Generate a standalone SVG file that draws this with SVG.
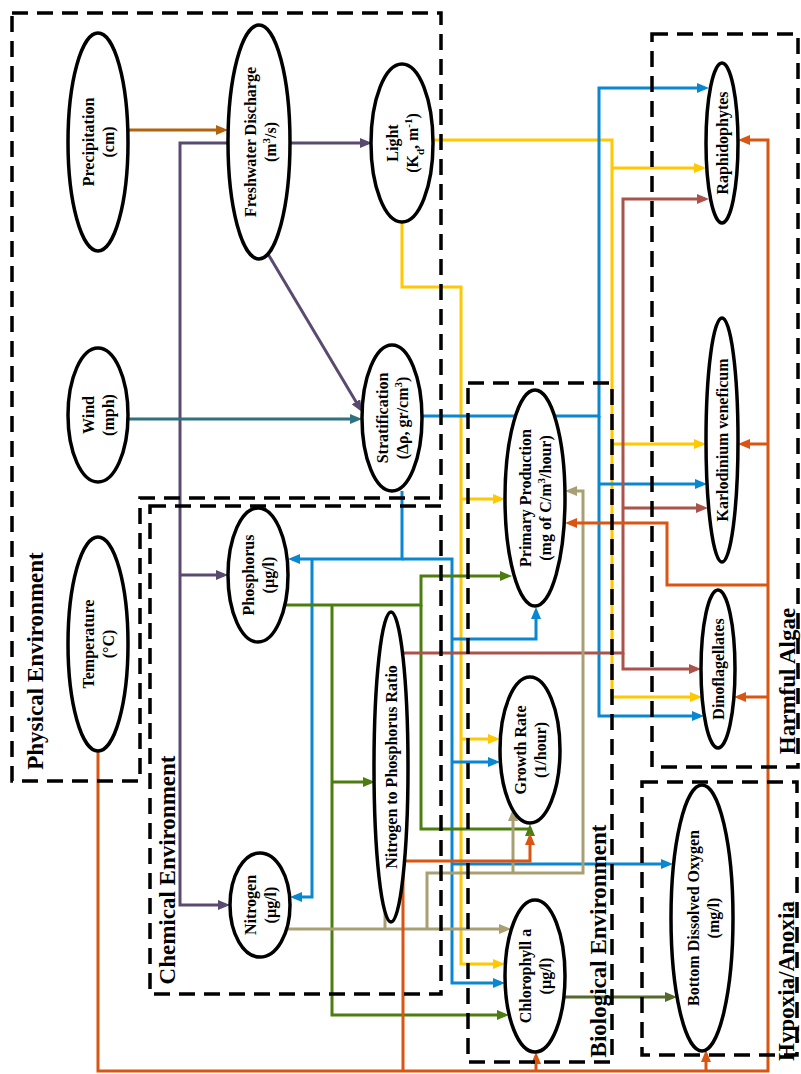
<svg xmlns="http://www.w3.org/2000/svg" width="801" height="1074" viewBox="0 0 801 1074">
<style>
.c{fill:none;stroke-width:3;stroke-linejoin:miter}
.box{fill:none;stroke:#000;stroke-width:3.5;stroke-dasharray:16 9}
.n ellipse{fill:#fff;stroke:#000;stroke-width:3.5}
text{font-family:"Liberation Serif","Times New Roman",serif;font-weight:bold;fill:#000}
.n text{font-size:16px;text-anchor:middle}
.g{font-size:23px;text-anchor:middle}
.sup{font-size:11px;baseline-shift:super}
.sub{font-size:11px;baseline-shift:sub}
</style>
<defs>
<marker id="mBrown" viewBox="0 0 12 10" refX="8" refY="5" markerWidth="12" markerHeight="10" markerUnits="userSpaceOnUse" orient="auto"><path d="M0,0 L12,5 L0,10 z" fill="#B5620F"/></marker>
<marker id="mPurple" viewBox="0 0 12 10" refX="8" refY="5" markerWidth="12" markerHeight="10" markerUnits="userSpaceOnUse" orient="auto"><path d="M0,0 L12,5 L0,10 z" fill="#5A4A70"/></marker>
<marker id="mTeal" viewBox="0 0 12 10" refX="8" refY="5" markerWidth="12" markerHeight="10" markerUnits="userSpaceOnUse" orient="auto"><path d="M0,0 L12,5 L0,10 z" fill="#2F717F"/></marker>
<marker id="mYellow" viewBox="0 0 12 10" refX="8" refY="5" markerWidth="12" markerHeight="10" markerUnits="userSpaceOnUse" orient="auto"><path d="M0,0 L12,5 L0,10 z" fill="#FFC800"/></marker>
<marker id="mBlue" viewBox="0 0 12 10" refX="8" refY="5" markerWidth="12" markerHeight="10" markerUnits="userSpaceOnUse" orient="auto"><path d="M0,0 L12,5 L0,10 z" fill="#0A87D1"/></marker>
<marker id="mGreen" viewBox="0 0 12 10" refX="8" refY="5" markerWidth="12" markerHeight="10" markerUnits="userSpaceOnUse" orient="auto"><path d="M0,0 L12,5 L0,10 z" fill="#4B7E0E"/></marker>
<marker id="mRed" viewBox="0 0 12 10" refX="8" refY="5" markerWidth="12" markerHeight="10" markerUnits="userSpaceOnUse" orient="auto"><path d="M0,0 L12,5 L0,10 z" fill="#A9534A"/></marker>
<marker id="mTan" viewBox="0 0 12 10" refX="8" refY="5" markerWidth="12" markerHeight="10" markerUnits="userSpaceOnUse" orient="auto"><path d="M0,0 L12,5 L0,10 z" fill="#A89F72"/></marker>
<marker id="mOrange" viewBox="0 0 12 10" refX="8" refY="5" markerWidth="12" markerHeight="10" markerUnits="userSpaceOnUse" orient="auto"><path d="M0,0 L12,5 L0,10 z" fill="#DA5512"/></marker>
<marker id="mOlive" viewBox="0 0 12 10" refX="8" refY="5" markerWidth="12" markerHeight="10" markerUnits="userSpaceOnUse" orient="auto"><path d="M0,0 L12,5 L0,10 z" fill="#55692F"/></marker>
</defs>
<rect x="0" y="0" width="801" height="1074" fill="#fff"/>

<g id="connectors">
<path class="c" stroke="#B5620F" marker-end="url(#mBrown)" d="M128,130 H224"/>
<path class="c" stroke="#5A4A70" marker-end="url(#mPurple)" d="M290,143 H368"/>
<path class="c" stroke="#5A4A70" marker-end="url(#mPurple)" d="M229,143 H180 V905 H226"/>
<path class="c" stroke="#5A4A70" marker-end="url(#mPurple)" d="M180,575 H224"/>
<path class="c" stroke="#5A4A70" marker-end="url(#mPurple)" d="M268,254 L360,408.6"/>
<path class="c" stroke="#2F717F" marker-end="url(#mTeal)" d="M128,419 H358"/>

<path class="c" stroke="#FFC800" marker-end="url(#mYellow)" d="M433,140 H612 V697 H698"/>
<path class="c" stroke="#FFC800" marker-end="url(#mYellow)" d="M612,168 H702"/>
<path class="c" stroke="#FFC800" marker-end="url(#mYellow)" d="M612,444 H702"/>
<path class="c" stroke="#FFC800" marker-end="url(#mYellow)" d="M402,222 V287 H461 V964 H501"/>
<path class="c" stroke="#FFC800" marker-end="url(#mYellow)" d="M461,499 H501"/>
<path class="c" stroke="#FFC800" marker-end="url(#mYellow)" d="M461,739 H496"/>

<path class="c" stroke="#0A87D1" marker-end="url(#mBlue)" d="M422,416 H599 V88 H705"/>
<path class="c" stroke="#0A87D1" marker-end="url(#mBlue)" d="M599,416 V716 H700"/>
<path class="c" stroke="#0A87D1" marker-end="url(#mBlue)" d="M599,484 H703"/>
<path class="c" stroke="#0A87D1" marker-end="url(#mBlue)" d="M402,491 V559 H292"/>
<path class="c" stroke="#0A87D1" marker-end="url(#mBlue)" d="M402,559 H452 V983 H501"/>
<path class="c" stroke="#0A87D1" marker-end="url(#mBlue)" d="M312,559 V897 H294"/>
<path class="c" stroke="#0A87D1" marker-end="url(#mBlue)" d="M452,639 H536 V611"/>
<path class="c" stroke="#0A87D1" marker-end="url(#mBlue)" d="M452,762 H496"/>
<path class="c" stroke="#0A87D1" marker-end="url(#mBlue)" d="M452,864 H669"/>

<path class="c" stroke="#4B7E0E" marker-end="url(#mGreen)" d="M285,605 H421 V576 H508"/>
<path class="c" stroke="#4B7E0E" marker-end="url(#mGreen)" d="M421,605 V829 H530 V828"/>
<path class="c" stroke="#4B7E0E" marker-end="url(#mGreen)" d="M332,605 V1015 H505"/>
<path class="c" stroke="#4B7E0E" marker-end="url(#mGreen)" d="M332,782 H371"/>

<path class="c" stroke="#A9534A" marker-end="url(#mRed)" d="M402,653 H623 V199 H705"/>
<path class="c" stroke="#A9534A" marker-end="url(#mRed)" d="M623,653 V669 H697"/>
<path class="c" stroke="#A9534A" marker-end="url(#mRed)" d="M623,508 H704"/>

<path class="c" stroke="#A89F72" marker-end="url(#mTan)" d="M287,929 H507"/>
<path class="c" stroke="#A89F72" d="M385,913 V929"/>
<path class="c" stroke="#A89F72" marker-end="url(#mTan)" d="M427,929 V873 H583 V491 H569"/>
<path class="c" stroke="#A89F72" marker-end="url(#mTan)" d="M513,873 V813"/>

<path class="c" stroke="#DA5512" marker-end="url(#mOrange)" d="M98,752 V1071 H768 V140 H742"/>
<path class="c" stroke="#DA5512" marker-end="url(#mOrange)" d="M403,1071 V861 H530 V837"/>
<path class="c" stroke="#DA5512" marker-end="url(#mOrange)" d="M536,1071 V1056"/>
<path class="c" stroke="#DA5512" marker-end="url(#mOrange)" d="M706,1071 V1054"/>
<path class="c" stroke="#DA5512" marker-end="url(#mOrange)" d="M768,444 H742"/>
<path class="c" stroke="#DA5512" marker-end="url(#mOrange)" d="M768,585 H667 V523 H569"/>
<path class="c" stroke="#DA5512" marker-end="url(#mOrange)" d="M768,697 H738"/>

<path class="c" stroke="#55692F" marker-end="url(#mOlive)" d="M564,997 H673"/>
</g>

<g id="groups">
<path class="box" d="M12,13 H441 V498 H140 V781 H12 Z"/>
<rect class="box" x="150" y="506" width="291" height="488"/>
<rect class="box" x="468" y="383" width="144" height="679"/>
<rect class="box" x="652" y="34" width="146" height="733"/>
<rect class="box" x="642" y="782" width="155" height="273"/>
<text class="g" transform="translate(35,661) rotate(-90)" dy="8">Physical Environment</text>
<text class="g" transform="translate(167,870) rotate(-90)" dy="8">Chemical Environment</text>
<text class="g" transform="translate(598,941) rotate(-90)" dy="8">Biological Environment</text>
<text class="g" transform="translate(787,681) rotate(-90)" dy="8">Harmful Algae</text>
<text class="g" transform="translate(786,981) rotate(-90)" dy="8">Hypoxia/Anoxia</text>
</g>

<g id="precipitation" class="n"><ellipse cx="98" cy="142" rx="30" ry="109"/>
<text transform="translate(98,142) rotate(-90)"><tspan x="0" y="-4">Precipitation</tspan><tspan x="0" y="16">(cm)</tspan></text></g>
<g id="freshwater" class="n"><ellipse cx="259" cy="142" rx="31" ry="117"/>
<text transform="translate(259,142) rotate(-90)"><tspan x="0" y="-3">Freshwater Discharge</tspan><tspan x="0" y="17">(m<tspan class="sup">3</tspan>/s)</tspan></text></g>
<g id="light" class="n"><ellipse cx="402" cy="143" rx="31" ry="79"/>
<text transform="translate(402,143) rotate(-90)"><tspan x="0" y="-4">Light</tspan><tspan x="0" y="16">(K<tspan class="sub">d</tspan>, m<tspan class="sup">-1</tspan>)</tspan></text></g>
<g id="wind" class="n"><ellipse cx="98" cy="415" rx="30" ry="67"/>
<text transform="translate(98,415) rotate(-90)"><tspan x="0" y="-4">Wind</tspan><tspan x="0" y="16">(mph)</tspan></text></g>
<g id="stratification" class="n"><ellipse cx="392" cy="418" rx="30" ry="73"/>
<text transform="translate(392,418) rotate(-90)"><tspan x="0" y="-4">Stratification</tspan><tspan x="0" y="16">(Δρ, gr/cm<tspan class="sup">3</tspan>)</tspan></text></g>
<g id="temperature" class="n"><ellipse cx="98" cy="644" rx="30" ry="107"/>
<text transform="translate(98,644) rotate(-90)"><tspan x="0" y="-4">Temperature</tspan><tspan x="0" y="16">(°C)</tspan></text></g>
<g id="phosphorus" class="n"><ellipse cx="258" cy="575" rx="30" ry="67"/>
<text transform="translate(258,575) rotate(-90)"><tspan x="0" y="-4">Phosphorus</tspan><tspan x="0" y="16">(µg/l)</tspan></text></g>
<g id="np-ratio" class="n"><ellipse cx="391" cy="767" rx="17" ry="155"/>
<text transform="translate(391,767) rotate(-90)" y="6">Nitrogen to Phosphorus Ratio</text></g>
<g id="nitrogen" class="n"><ellipse cx="260" cy="905" rx="30" ry="52"/>
<text transform="translate(260,905) rotate(-90)"><tspan x="0" y="-4">Nitrogen</tspan><tspan x="0" y="16">(µg/l)</tspan></text></g>
<g id="primary-production" class="n"><ellipse cx="535" cy="498" rx="30" ry="108"/>
<text transform="translate(535,498) rotate(-90)"><tspan x="0" y="-4">Primary Production</tspan><tspan x="0" y="16">(mg of C/m<tspan class="sup">3</tspan>/hour)</tspan></text></g>
<g id="growth-rate" class="n"><ellipse cx="530" cy="750" rx="30" ry="73"/>
<text transform="translate(530,750) rotate(-90)"><tspan x="0" y="-4">Growth Rate</tspan><tspan x="0" y="16">(1/hour)</tspan></text></g>
<g id="chlorophyll" class="n"><ellipse cx="535" cy="976" rx="30" ry="76"/>
<text transform="translate(535,976) rotate(-90)"><tspan x="0" y="-4">Chlorophyll a</tspan><tspan x="0" y="16">(µg/l)</tspan></text></g>
<g id="bottom-do" class="n"><ellipse cx="702" cy="918" rx="31" ry="133"/>
<text transform="translate(702,918) rotate(-90)"><tspan x="0" y="-3">Bottom Dissolved Oxygen</tspan><tspan x="0" y="17">(mg/l)</tspan></text></g>
<g id="raphidophytes" class="n"><ellipse cx="722" cy="143" rx="16" ry="80"/>
<text transform="translate(722,143) rotate(-90)" y="5.5">Raphidophytes</text></g>
<g id="karlodinium" class="n"><ellipse cx="722" cy="440" rx="16" ry="122"/>
<text transform="translate(722,440) rotate(-90)" y="5.5">Karlodinium veneficum</text></g>
<g id="dinoflagellates" class="n"><ellipse cx="718" cy="669" rx="17" ry="79"/>
<text transform="translate(718,669) rotate(-90)" y="5.5">Dinoflagellates</text></g>
</svg>
